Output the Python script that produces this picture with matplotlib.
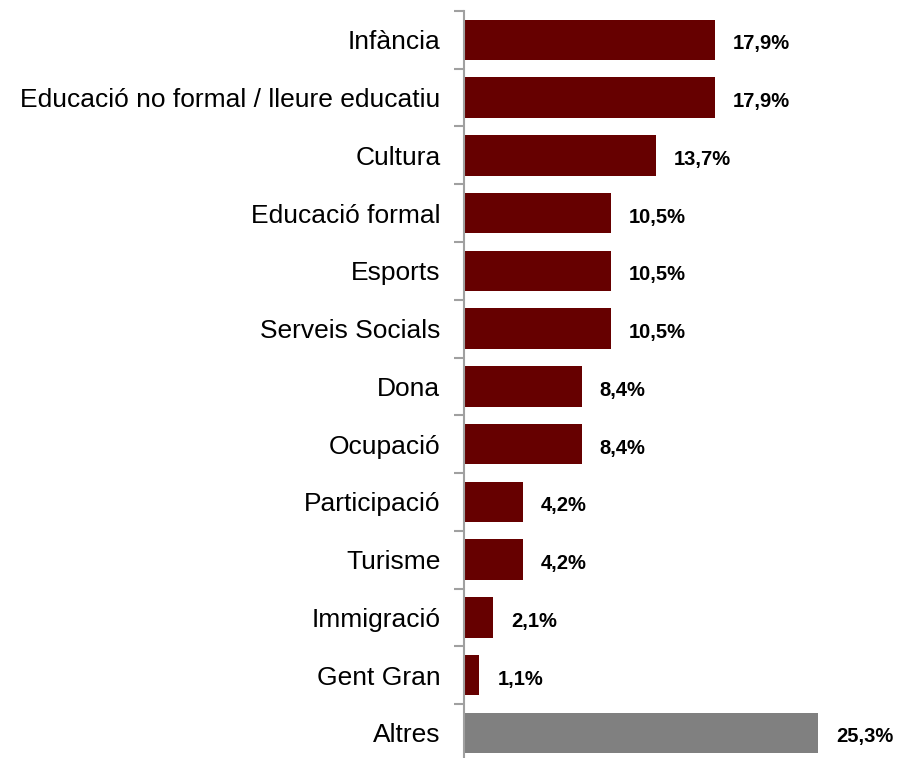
import numpy as np
import matplotlib.pyplot as plt

categories = ['Infància', 'Educació no formal / lleure educatiu', 'Cultura',
              'Educació formal', 'Esports', 'Serveis Socials', 'Dona',
              'Ocupació', 'Participació', 'Turisme', 'Immigració',
              'Gent Gran', 'Altres']
values = [17.9, 17.9, 13.7, 10.5, 10.5, 10.5, 8.4, 8.4, 4.2, 4.2, 2.1, 1.1, 25.3]
colors = ['#660000'] * 12 + ['#808080']

plt.rcParams['font.family'] = ['Liberation Sans', 'DejaVu Sans']

fig = plt.figure(figsize=(9.11, 7.58), dpi=100)
ax = fig.add_axes([464 / 911, -0.005, 420 / 911, 0.9905])

y = np.arange(len(categories))
ax.barh(y, values, height=0.7, color=colors)
for yi, v in zip(y, values):
    ax.text(v + 1.3, yi + 0.07, f'{v:.1f}%'.replace('.', ','), va='center', ha='left',
            fontsize=14.5, fontweight='bold')

ax.set_xlim(0, 30)
ax.set_ylim(len(categories) - 0.5, -0.5)
ax.set_yticks(y)
ax.set_yticklabels(categories, fontsize=19)
ax.set_yticks(np.arange(-0.5, len(categories)), minor=True)
ax.tick_params(axis='y', which='major', length=0, pad=17)
ax.tick_params(axis='y', which='minor', length=7, width=1.5, color='#a0a0a0')
ax.set_xticks([])
for s in ['top', 'right', 'bottom']:
    ax.spines[s].set_visible(False)
ax.spines['left'].set_color('#a0a0a0')
ax.spines['left'].set_linewidth(1.5)

fig.savefig('out.png', dpi=100)
